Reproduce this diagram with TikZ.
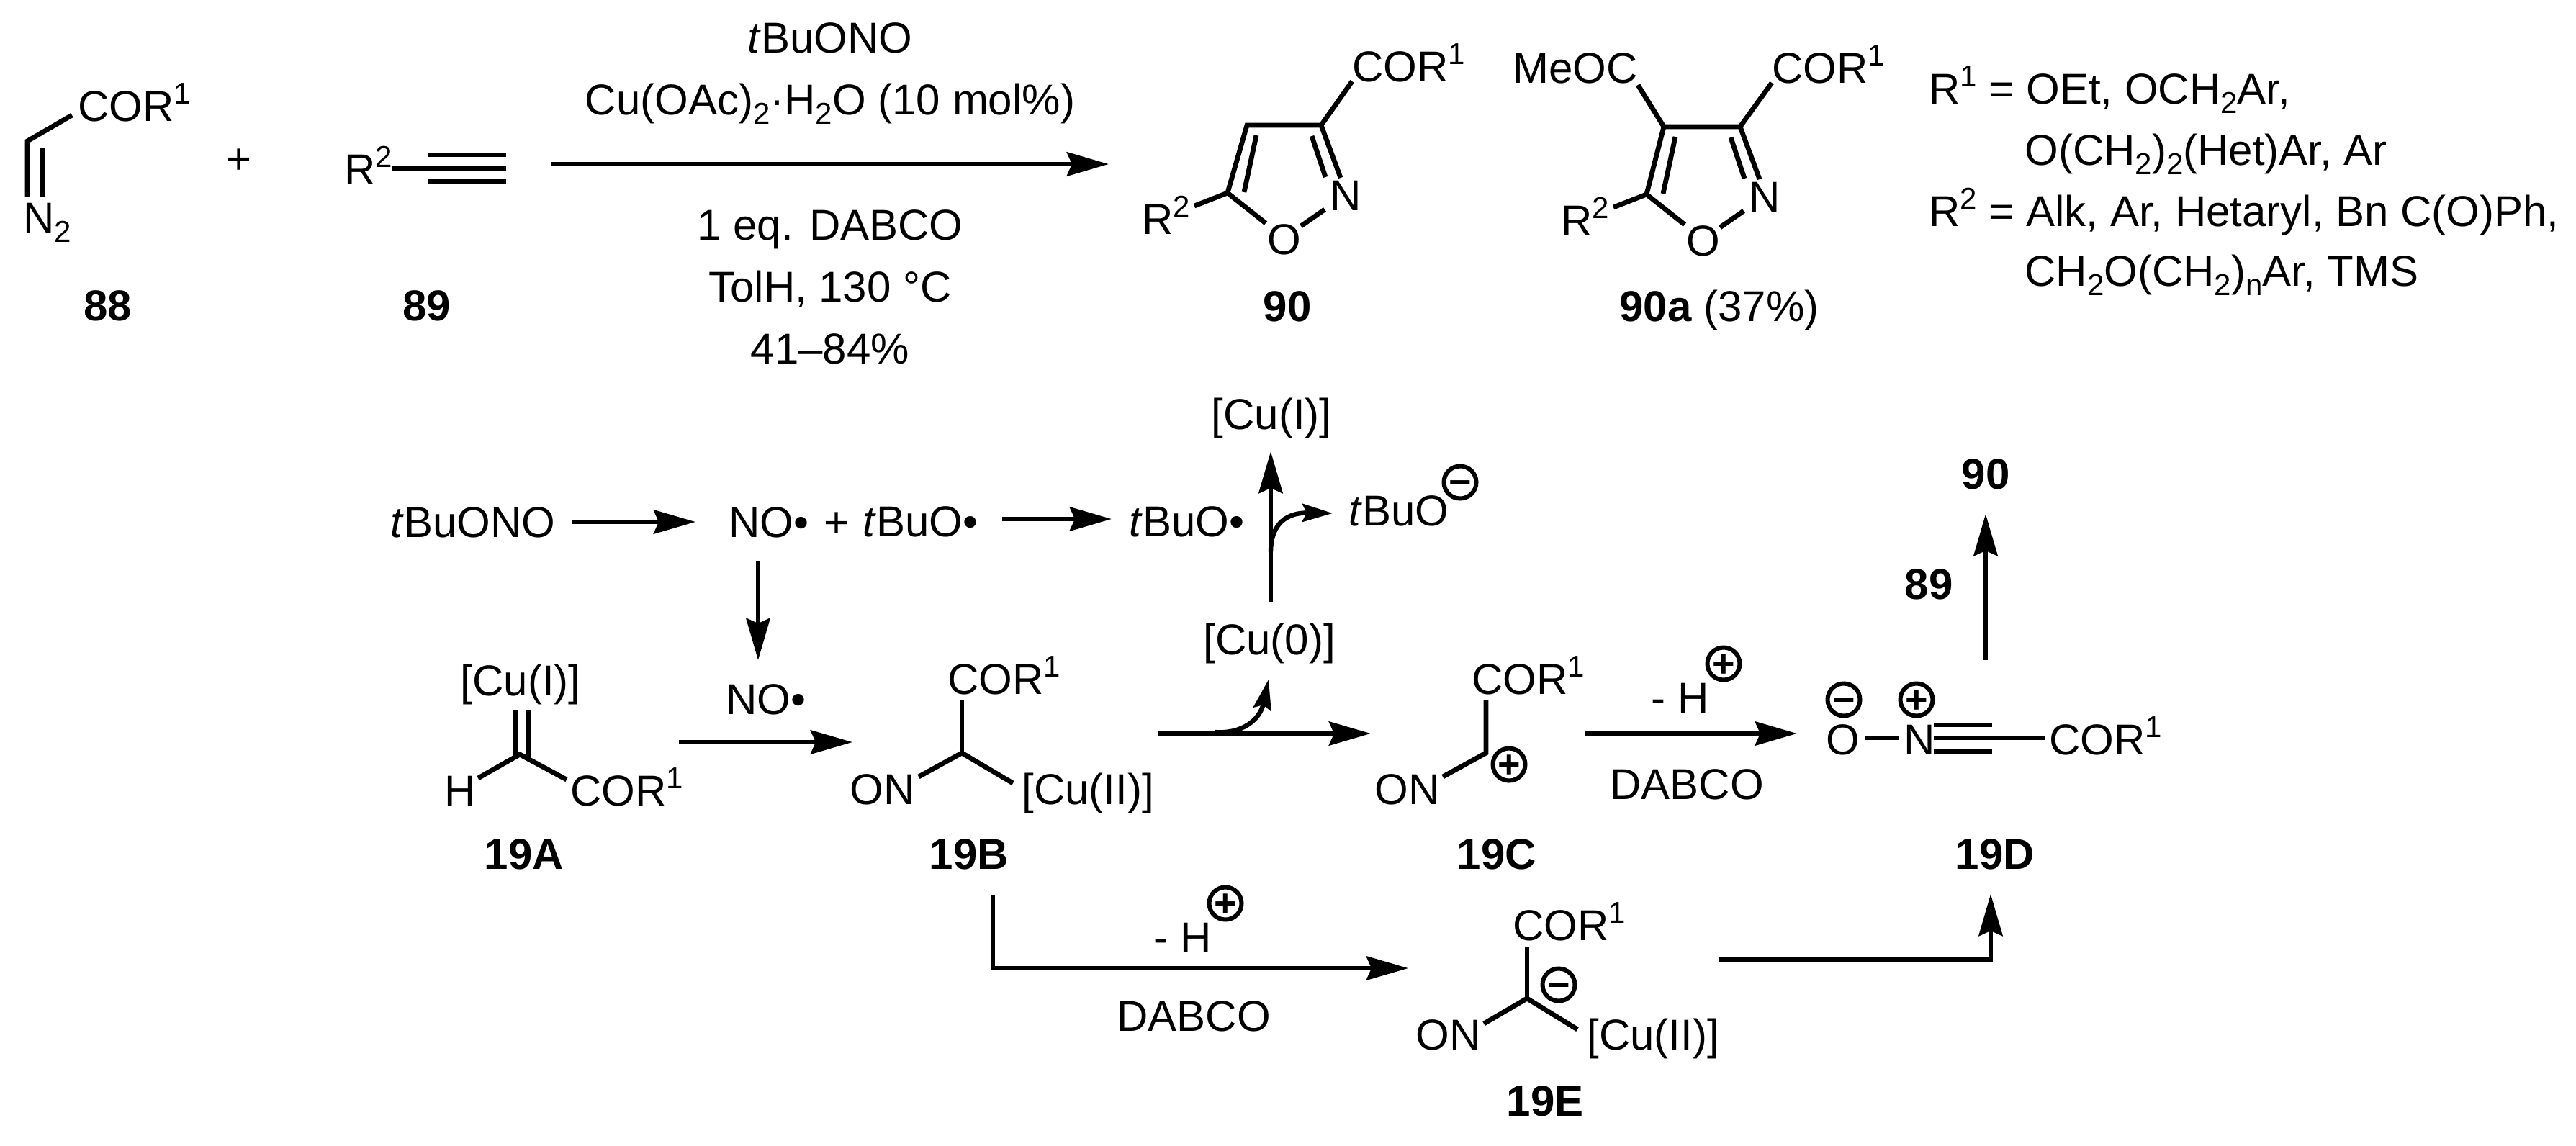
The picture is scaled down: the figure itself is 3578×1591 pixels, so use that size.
\documentclass[tikz,border=0pt]{standalone}
\usepackage{fontspec}
\setmainfont{Liberation Sans}
\usetikzlibrary{arrows.meta}
\newcommand\chemup[1]{\raisebox{0.4em}{\fontsize{21}{21}\selectfont #1}}
\newcommand\chemdn[1]{\raisebox{-0.22em}{\fontsize{21}{21}\selectfont #1}}
\newcommand\rad{•}
\newcommand\sgn[1]{\smash{\raisebox{-0.35em}{#1}}}
\tikzset{
  every node/.style={inner sep=0pt,font=\fontsize{30}{34}\selectfont},
  txt/.style={anchor=base west},
  ctr/.style={anchor=base},
  lab/.style={anchor=base,font=\fontsize{30}{34}\selectfont\bfseries},
  bond/.style={line width=3.4pt,line cap=butt,line join=miter},
  rxn/.style={line width=3.4pt,-{Stealth[length=29pt,width=16.5pt,inset=3.5pt]}},
  curvy/.style={line width=3.2pt,-{Stealth[length=21pt,width=12.5pt,inset=3pt]}},
  chg/.style={circle,draw,line width=3pt,minimum size=22.5pt,anchor=center,
    font=\fontsize{27}{27}\selectfont\bfseries},
}
\begin{document}
\begin{tikzpicture}[x=0.5pt,y=-0.5pt]
\useasboundingbox[fill=white] (0,0) rectangle (3578,1591);
% --- top scheme: 88
\node[txt] (t88cor) at (108,168) {COR\chemup{1}};
\node[txt] (t88n) at (32,323) {N\chemdn{2}};
\node[lab] (l88) at (150,445) {\textbf{88}};
\coordinate (c88) at (38,196); \coordinate (c88a) at (100,160);
\coordinate (n88a) at (38,273); \coordinate (c88b) at (59,206); \coordinate (n88b) at (59,273);
\draw[bond] (c88a) -- (c88) -- (n88a);
\draw[bond] (c88b) -- (n88b);
\node[anchor=base] (plus) at (332,241) {+};
% 89
\node[txt] (t89r) at (478,256) {R\chemup{2}};
\node[lab] (l89) at (593,445) {\textbf{89}};
\coordinate (a89) at (545,234); \coordinate (b89) at (703,234);
\coordinate (a89u) at (595,215); \coordinate (b89u) at (703,215);
\coordinate (a89d) at (595,252); \coordinate (b89d) at (703,252);
\draw[bond] (a89) -- (b89);
\draw[bond] (a89u) -- (b89u);
\draw[bond] (a89d) -- (b89d);
% main arrow and conditions
\coordinate (m1) at (765,228); \coordinate (m2) at (1540,228);
\draw[rxn] (m1) -- (m2);
\node[ctr] (r1) at (1153,73) {\textit{t}BuONO};
\node[ctr] (r2) at (1153,159) {Cu(OAc)\chemdn{2}·H\chemdn{2}O (10 mol\%)};
\node[ctr] (r3) at (1153,333) {1 eq. DABCO};
\node[ctr] (r4) at (1153,419) {TolH, 130 °C};
\node[ctr] (r5) at (1153,505) {41–84\%};
% 90
\node[txt] (t90cor) at (1878,113) {COR\chemup{1}};
\node[txt] (t90r) at (1586,325) {R\chemup{2}};
\node[txt] (t90n) at (1847,292) {N};
\node[ctr] (t90o) at (1784,353) {O};
\node[lab] (l90) at (1788,446) {\textbf{90}};
\coordinate (c3) at (1835,174); \coordinate (c4) at (1732,174); \coordinate (c5) at (1705,268);
\coordinate (s1) at (1878,113); \coordinate (n1) at (1862,247);
\coordinate (i1) at (1822,189); \coordinate (i2) at (1841,246);
\coordinate (i3) at (1745,188); \coordinate (i4) at (1728,267);
\coordinate (o1) at (1758,310); \coordinate (o2) at (1807,314); \coordinate (n2) at (1840,291);
\coordinate (rb) at (1659,286);
\draw[bond] (s1) -- (c3) -- (n1);
\draw[bond] (c3) -- (c4) -- (c5) -- (o1);
\draw[bond] (o2) -- (n2);
\draw[bond] (c5) -- (rb);
\draw[bond] (i1) -- (i2);
\draw[bond] (i3) -- (i4);
% 90a
\node[txt] (t90acor) at (2461,115) {COR\chemup{1}};
\node[anchor=base east] (t90ame) at (2275,115) {MeOC};
\node[txt] (t90ar) at (2168,327) {R\chemup{2}};
\node[txt] (t90an) at (2429,294) {N};
\node[ctr] (t90ao) at (2366,355) {O};
\node[anchor=base west] (l90a) at (2249,446) {\textbf{90a} (37\%)};
\coordinate (ac3) at (2417,176); \coordinate (ac4) at (2311,176); \coordinate (ac5) at (2287,270);
\coordinate (as1) at (2461,115); \coordinate (as2) at (2275,118); \coordinate (an1) at (2444,249);
\coordinate (ai1) at (2404,191); \coordinate (ai2) at (2423,248);
\coordinate (ai3) at (2327,190); \coordinate (ai4) at (2310,269);
\coordinate (ao1) at (2340,312); \coordinate (ao2) at (2389,316); \coordinate (an2) at (2422,293);
\coordinate (arb) at (2241,288);
\draw[bond] (as1) -- (ac3) -- (an1);
\draw[bond] (as2) -- (ac4);
\draw[bond] (ac3) -- (ac4) -- (ac5) -- (ao1);
\draw[bond] (ao2) -- (an2);
\draw[bond] (ac5) -- (arb);
\draw[bond] (ai1) -- (ai2);
\draw[bond] (ai3) -- (ai4);
% legend
\node[txt] (g1) at (2679,144) {R\chemup{1} = OEt, OCH\chemdn{2}Ar,};
\node[txt] (g2) at (2812,229) {O(CH\chemdn{2})\chemdn{2}(Het)Ar, Ar};
\node[txt] (g3) at (2679,314) {R\chemup{2} = Alk, Ar, Hetaryl, Bn C(O)Ph,};
\node[txt] (g4) at (2812,397) {CH\chemdn{2}O(CH\chemdn{2})\chemdn{n}Ar, TMS};
% --- mechanism, first row
\node[txt] (q1) at (542,746) {\textit{t}BuONO};
\node[txt] (q2) at (1012,746) {NO\rad};
\node[anchor=base] (q3) at (1162,746) {+};
\node[txt] (q4) at (1198,745) {\textit{t}BuO\rad};
\node[txt] (q5) at (1568,745) {\textit{t}BuO\rad};
\node[txt] (q6) at (1873,730) {\textit{t}BuO};
\node[chg] (q6c) at (2028,670) {\sgn{−}};
\node[ctr] (q7) at (1766,596) {[Cu(I)]};
\node[ctr] (q8) at (1763,909) {[Cu(0)]};
\coordinate (ar1a) at (794,725); \coordinate (ar1b) at (966,725);
\coordinate (ar2a) at (1392,721); \coordinate (ar2b) at (1544,721);
\coordinate (ar3a) at (1053,779); \coordinate (ar3b) at (1053,917);
\coordinate (ar4a) at (1765,836); \coordinate (ar4b) at (1765,627);
\coordinate (cv1) at (1765,767); \coordinate (cv1b) at (1851,713);
\draw[rxn] (ar1a) -- (ar1b);
\draw[rxn] (ar2a) -- (ar2b);
\draw[rxn] (ar3a) -- (ar3b);
\draw[rxn] (ar4a) -- (ar4b);
\draw[curvy] (cv1) .. controls (1765,735) and (1780,712) .. (cv1b);
% 19A
\node[ctr] (a1) at (723,966) {[Cu(I)]};
\node[txt] (a2) at (617,1119) {H};
\node[txt] (a3) at (792,1119) {COR\chemup{1}};
\node[lab] (la) at (728,1207) {\textbf{19A}};
\coordinate (ca) at (722,1048); \coordinate (ca1) at (716,987); \coordinate (ca2) at (734,987);
\coordinate (ca3) at (734,1056); \coordinate (ca4) at (664,1081); \coordinate (ca5) at (787,1083);
\coordinate (ca6) at (716,1052);
\draw[bond] (ca1) -- (ca6);
\draw[bond] (ca2) -- (ca3);
\draw[bond] (ca4) -- (ca) -- (ca5);
% NO over arrow
\node[txt] (b0) at (1008,992) {NO\rad};
\coordinate (ar5a) at (943,1031); \coordinate (ar5b) at (1184,1031);
\draw[rxn] (ar5a) -- (ar5b);
% 19B
\node[txt] (b1) at (1316,964) {COR\chemup{1}};
\node[txt] (b2) at (1180,1117) {ON};
\node[txt] (b3) at (1419,1117) {[Cu(II)]};
\node[lab] (lb) at (1346,1207) {\textbf{19B}};
\coordinate (cb) at (1336,1046); \coordinate (cb1) at (1336,973);
\coordinate (cb2) at (1276,1079); \coordinate (cb3) at (1407,1088);
\draw[bond] (cb1) -- (cb);
\draw[bond] (cb2) -- (cb) -- (cb3);
% B to C arrow, curved
\coordinate (ar6a) at (1609,1019); \coordinate (ar6b) at (1904,1019);
\coordinate (cv2) at (1687,1017); \coordinate (cv2b) at (1762,944);
\draw[rxn] (ar6a) -- (ar6b);
\draw[curvy] (cv2) .. controls (1725,1020) and (1750,1000) .. (cv2b);
% 19C
\node[txt] (c1) at (2044,964) {COR\chemup{1}};
\node[txt] (c2) at (1909,1117) {ON};
\node[chg] (c1c) at (2096,1062) {\sgn{+}};
\node[lab] (lc) at (2079,1207) {\textbf{19C}};
\coordinate (cc) at (2064,1046); \coordinate (cc1) at (2064,973); \coordinate (cc2) at (2004,1079);
\draw[bond] (cc1) -- (cc) -- (cc2);
% C to D arrow
\coordinate (ar7a) at (2202,1019); \coordinate (ar7b) at (2496,1019);
\draw[rxn] (ar7a) -- (ar7b);
\node[txt] (h1) at (2293,990) {- H};
\node[chg] (h1c) at (2394,922) {\sgn{+}};
\node[ctr] (d1) at (2343,1110) {DABCO};
% 19D
\node[chg] (dm) at (2561,972) {\sgn{−}};
\node[chg] (dp) at (2662,972) {\sgn{+}};
\node[ctr] (d2) at (2560,1048) {O};
\node[txt] (d3) at (2644,1048) {N};
\node[txt] (d4) at (2846,1048) {COR\chemup{1}};
\node[lab] (ld) at (2771,1207) {\textbf{19D}};
\coordinate (dx1) at (2590,1025); \coordinate (dx2) at (2638,1025);
\coordinate (dt1) at (2686,1025); \coordinate (dt2) at (2840,1025);
\coordinate (du1) at (2686,1007); \coordinate (du2) at (2767,1007);
\coordinate (dv1) at (2686,1044); \coordinate (dv2) at (2767,1044);
\draw[bond] (dx1) -- (dx2);
\draw[bond] (dt1) -- (dt2);
\draw[bond] (du1) -- (du2);
\draw[bond] (dv1) -- (dv2);
% D to 90
\coordinate (ar8a) at (2758,917); \coordinate (ar8b) at (2758,714);
\draw[rxn] (ar8a) -- (ar8b);
\node[lab] (e90) at (2758,679) {\textbf{90}};
\node[lab] (e89) at (2679,832) {\textbf{89}};
% B to E elbow
\coordinate (ar9a) at (1379,1244); \coordinate (ar9m) at (1379,1345); \coordinate (ar9b) at (1956,1345);
\draw[rxn,line join=miter] (ar9a) -- (ar9m) -- (ar9b);
\node[txt] (h2) at (1602,1323) {- H};
\node[chg] (h2c) at (1702,1255) {\sgn{+}};
\node[ctr] (d5) at (1658,1432) {DABCO};
% 19E
\node[txt] (f1) at (2101,1306) {COR\chemup{1}};
\node[txt] (f2) at (1966,1458) {ON};
\node[txt] (f3) at (2204,1458) {[Cu(II)]};
\node[chg] (fc) at (2165,1368) {\sgn{−}};
\node[lab] (lf) at (2146,1550) {\textbf{19E}};
\coordinate (ce) at (2121,1387); \coordinate (ce1) at (2121,1315);
\coordinate (ce2) at (2061,1422); \coordinate (ce3) at (2191,1430);
\draw[bond] (ce1) -- (ce);
\draw[bond] (ce2) -- (ce) -- (ce3);
% E to D elbow
\coordinate (ar10a) at (2387,1333); \coordinate (ar10m) at (2765,1333); \coordinate (ar10b) at (2765,1242);
\draw[rxn,line join=miter] (ar10a) -- (ar10m) -- (ar10b);
\end{tikzpicture}
\end{document}
